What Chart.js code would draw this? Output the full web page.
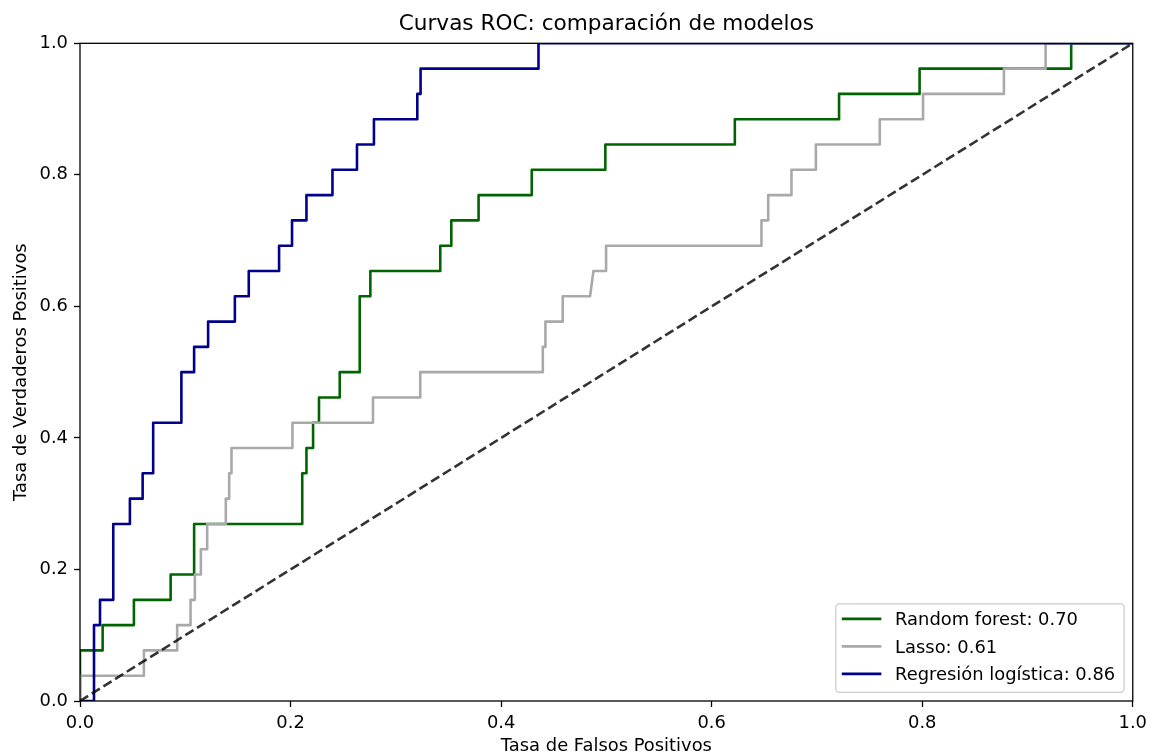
<!DOCTYPE html>
<html>
<head>
<meta charset="utf-8">
<title>Curvas ROC</title>
<script src="https://cdn.jsdelivr.net/npm/chart.js@4/dist/chart.umd.min.js"></script>
<style>
  html, body { margin: 0; padding: 0; background: #fff; }
  canvas { display: block; }
</style>
</head>
<body>
<canvas id="roc" width="1153" height="755"></canvas>
<script>
// ROC points per model: false positive rate / true positive rate
const rfFpr = [0, 0, 0.0215, 0.0215, 0.0512, 0.0512, 0.0861, 0.0861, 0.1084, 0.1084, 0.2111, 0.2111,
  0.2151, 0.2151, 0.2214, 0.2214, 0.2270, 0.2270, 0.2467, 0.2467, 0.2657, 0.2657, 0.2758, 0.2758,
  0.3422, 0.3422, 0.3527, 0.3527, 0.3786, 0.3786, 0.4291, 0.4291, 0.4990, 0.4990, 0.6220, 0.6220,
  0.7210, 0.7210, 0.7975, 0.7975, 0.9415, 0.9415, 1];
const rfTpr = [0, 0.0769, 0.0769, 0.1154, 0.1154, 0.1538, 0.1538, 0.1923, 0.1923, 0.2692, 0.2692, 0.3462,
  0.3462, 0.3846, 0.3846, 0.4231, 0.4231, 0.4615, 0.4615, 0.5, 0.5, 0.6154, 0.6154, 0.6538,
  0.6538, 0.6923, 0.6923, 0.7308, 0.7308, 0.7692, 0.7692, 0.8077, 0.8077, 0.8462, 0.8462, 0.8846,
  0.8846, 0.9231, 0.9231, 0.9615, 0.9615, 1, 1];

const lassoFpr = [0, 0, 0.0607, 0.0607, 0.0923, 0.0923, 0.1050, 0.1050, 0.1091, 0.1091, 0.1148, 0.1148,
  0.1208, 0.1208, 0.1385, 0.1385, 0.1417, 0.1417, 0.1439, 0.1439, 0.2018, 0.2018, 0.2783, 0.2783,
  0.3232, 0.3232, 0.4396, 0.4396, 0.4421, 0.4421, 0.4585, 0.4585, 0.4845, 0.4877, 0.4997, 0.4997,
  0.6473, 0.6473, 0.6537, 0.6537, 0.6758, 0.6758, 0.6990, 0.6990, 0.7597, 0.7597, 0.8008, 0.8008,
  0.8776, 0.8776, 0.9172, 0.9172, 1];
const lassoTpr = [0, 0.0385, 0.0385, 0.0769, 0.0769, 0.1154, 0.1154, 0.1538, 0.1538, 0.1923, 0.1923, 0.2308,
  0.2308, 0.2692, 0.2692, 0.3077, 0.3077, 0.3462, 0.3462, 0.3846, 0.3846, 0.4231, 0.4231, 0.4615,
  0.4615, 0.5, 0.5, 0.5385, 0.5385, 0.5769, 0.5769, 0.6154, 0.6154, 0.6538, 0.6538, 0.6923,
  0.6923, 0.7308, 0.7308, 0.7692, 0.7692, 0.8077, 0.8077, 0.8462, 0.8462, 0.8846, 0.8846, 0.9231,
  0.9231, 0.9615, 0.9615, 1, 1];

const logFpr = [0, 0.0133, 0.0133, 0.0190, 0.0190, 0.0316, 0.0316, 0.0474, 0.0474, 0.0595, 0.0595, 0.0695,
  0.0695, 0.0963, 0.0963, 0.1084, 0.1084, 0.1217, 0.1217, 0.1471, 0.1471, 0.1603, 0.1603, 0.1891,
  0.1891, 0.2014, 0.2014, 0.2151, 0.2151, 0.2398, 0.2398, 0.2631, 0.2631, 0.2792, 0.2792, 0.3204,
  0.3204, 0.3235, 0.3235, 0.4355, 0.4355, 1];
const logTpr = [0, 0, 0.1154, 0.1154, 0.1538, 0.1538, 0.2692, 0.2692, 0.3077, 0.3077, 0.3462, 0.3462,
  0.4231, 0.4231, 0.5, 0.5, 0.5385, 0.5385, 0.5769, 0.5769, 0.6154, 0.6154, 0.6538, 0.6538,
  0.6923, 0.6923, 0.7308, 0.7308, 0.7692, 0.7692, 0.8077, 0.8077, 0.8462, 0.8462, 0.8846, 0.8846,
  0.9231, 0.9231, 0.9615, 0.9615, 1, 1];

// chance line
const diagX = [0, 1];
const diagY = [0, 1];

const modelNames = ['Random forest', 'Lasso', 'Regresión logística'];
const aucValues = [0.70, 0.61, 0.86];
const tickValues = [0, 0.2, 0.4, 0.6, 0.8, 1.0];

const FONT = 'DejaVu Sans';
const TEXT_SIZE = 17.9;

function toPoints(xs, ys) {
  return xs.map((x, i) => ({ x: x, y: ys[i] }));
}

function rocSet(i, xs, ys, color, order) {
  return {
    label: `${modelNames[i]}: ${aucValues[i].toFixed(2)}`,
    data: toPoints(xs, ys),
    showLine: true,
    borderColor: color,
    backgroundColor: color,
    borderWidth: 2.6,
    borderJoinStyle: 'round',
    pointRadius: 0,
    tension: 0,
    clip: 0,
    order: order
  };
}

// black frame around the plot area
const frame = {
  id: 'frame',
  afterDatasetsDraw(chart) {
    const { ctx, chartArea: a } = chart;
    ctx.save();
    ctx.strokeStyle = '#000';
    ctx.lineWidth = 1.3;
    ctx.strokeRect(a.left, a.top, a.right - a.left, a.bottom - a.top);
    ctx.restore();
  }
};

// legend box in the lower right corner of the plot
const legendBox = {
  id: 'legendBox',
  afterDraw(chart) {
    const { ctx, chartArea: a } = chart;
    const items = chart.data.datasets.filter(d => d.label);
    const w = 288.3, h = 88.4;
    const x0 = a.right - 8.7 - w;
    const y0 = a.bottom - 8.7 - h;
    ctx.save();
    ctx.beginPath();
    ctx.roundRect(x0, y0, w, h, 3.5);
    ctx.fillStyle = 'rgba(255,255,255,0.8)';
    ctx.fill();
    ctx.strokeStyle = '#cccccc';
    ctx.lineWidth = 1.3;
    ctx.stroke();
    ctx.font = `${TEXT_SIZE}px "${FONT}"`;
    ctx.textBaseline = 'middle';
    ctx.textAlign = 'left';
    items.forEach((d, i) => {
      const y = y0 + 15 + i * 27.5;
      ctx.beginPath();
      ctx.moveTo(x0 + 6, y);
      ctx.lineTo(x0 + 45.6, y);
      ctx.strokeStyle = d.borderColor;
      ctx.lineWidth = d.borderWidth;
      ctx.stroke();
      ctx.fillStyle = '#000';
      ctx.fillText(d.label, x0 + 59.3, y + 1.5);
    });
    ctx.restore();
  }
};

function axisOptions(isX) {
  return {
    type: 'linear',
    min: 0,
    max: 1,
    afterFit: isX ? s => { s.height = 54; } : s => { s.width = 80; },
    afterBuildTicks: s => { s.ticks = tickValues.map(v => ({ value: v })); },
    ticks: {
      callback: v => v.toFixed(1),
      color: '#000',
      font: { family: FONT, size: TEXT_SIZE },
      padding: 6,
      maxRotation: 0,
      autoSkip: false
    },
    grid: {
      drawOnChartArea: false,
      drawTicks: true,
      tickLength: 6,
      tickWidth: 1.3,
      tickColor: '#000'
    },
    border: { display: false },
    title: {
      display: true,
      text: isX ? 'Tasa de Falsos Positivos' : 'Tasa de Verdaderos Positivos',
      color: '#000',
      font: { family: FONT, size: TEXT_SIZE, lineHeight: 1 },
      padding: isX ? { top: 0, bottom: 0 } : { top: 12.5, bottom: 0 }
    }
  };
}

const ctx = document.getElementById('roc').getContext('2d');
new Chart(ctx, {
  type: 'scatter',
  data: {
    datasets: [
      rocSet(0, rfFpr, rfTpr, '#006400', 4),
      rocSet(1, lassoFpr, lassoTpr, '#a9a9a9', 3),
      rocSet(2, logFpr, logTpr, '#00008b', 2),
      {
        data: toPoints(diagX, diagY),
        showLine: true,
        borderColor: 'rgba(0,0,0,0.8)',
        borderWidth: 2.6,
        borderDash: [9.6, 4.2],
        pointRadius: 0,
        clip: 0,
        order: 1
      }
    ]
  },
  options: {
    responsive: false,
    devicePixelRatio: 1,
    animation: false,
    layout: { padding: { left: 0, right: 19, top: 0, bottom: 0 } },
    plugins: {
      legend: { display: false },
      tooltip: { enabled: false },
      title: {
        display: true,
        fullSize: false,
        text: 'Curvas ROC: comparación de modelos',
        color: '#000',
        font: { family: FONT, size: 21.6, weight: 'normal', lineHeight: 1.2 },
        padding: { top: 11.5, bottom: 5.9 }
      }
    },
    scales: {
      x: axisOptions(true),
      y: axisOptions(false)
    }
  },
  plugins: [frame, legendBox]
});
</script>
</body>
</html>
